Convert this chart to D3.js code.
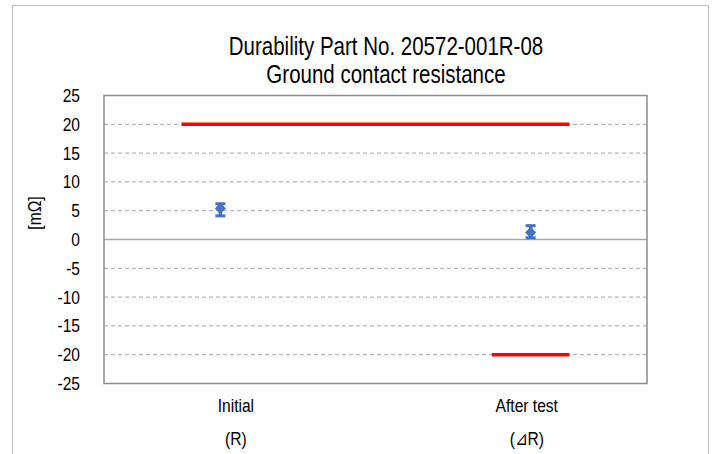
<!DOCTYPE html>
<html>
<head>
<meta charset="utf-8">
<script src="https://cdn.jsdelivr.net/npm/d3@7"></script>
<style>
  body { margin: 0; background: #fff; }
  text { font-family: "Liberation Sans", Arial, sans-serif; fill: #000; }
</style>
</head>
<body>
<script>
// chart data
var titleLines = ["Durability Part No. 20572-001R-08", "Ground contact resistance"];
var yTicks = [25, 20, 15, 10, 5, 0, -5, -10, -15, -20, -25];
var categories = ["Initial", "After test"];
var subLabels = ["(R)", "(\u22BFR)"];
var categoryX = [1.5, 5.5];      // x value of each point
var labelX = [1.7, 5.45];         // x value where the category text sits
var meanValues = [5.4, 1.2];
var maxValues = [6.2, 2.4];
var minValues = [4.1, 0.3];
// spec limits (red lines): [xStart, xEnd, y]
var upperLimit = [1, 6, 20];
var lowerLimit = [5, 6, -20];

var svgWidth = 715;
var svgHeight = 454;
var narrow = 0.82;   // squeeze text like Arial Narrow

var margin = { top: 95.5, right: 68, bottom: 70.5, left: 104 };
var width = svgWidth - margin.left - margin.right;
var height = svgHeight - margin.top - margin.bottom;

var svg = d3.select("body")
  .append("svg")
  .attr("width", svgWidth)
  .attr("height", svgHeight);

// outer chart border
svg.append("rect")
  .attr("x", 12.5)
  .attr("y", 5.5)
  .attr("width", 696)
  .attr("height", 470)
  .attr("fill", "none")
  .attr("stroke", "#bfbfbf")
  .attr("stroke-width", 1);

// title
svg.append("g").selectAll("text")
  .data(titleLines)
  .enter()
  .append("text")
  .attr("transform", function(d, i) { return `translate(386, ${55 + i * 28}) scale(${narrow}, 1)`; })
  .attr("text-anchor", "middle")
  .style("font-size", "25px")
  .text(function(d) { return d; });

var chart = svg.append("g")
  .attr("transform", `translate(${margin.left}, ${margin.top})`);

var xScale = d3.scaleLinear().domain([0, 7]).range([0, width]);
var yScale = d3.scaleLinear().domain([-25, 25]).range([height, 0]);

// gridlines
chart.append("g").selectAll("line")
  .data(yTicks.filter(function(d) { return d !== 25 && d !== -25 && d !== 0; }))
  .enter()
  .append("line")
  .attr("x1", 0)
  .attr("x2", width)
  .attr("y1", function(d) { return yScale(d); })
  .attr("y2", function(d) { return yScale(d); })
  .attr("stroke", "#a6a6a6")
  .attr("stroke-width", 1)
  .attr("stroke-dasharray", "4,3");

// zero line
chart.append("line")
  .attr("x1", 0)
  .attr("x2", width)
  .attr("y1", yScale(0))
  .attr("y2", yScale(0))
  .attr("stroke", "#a6a6a6")
  .attr("stroke-width", 1.5);

// plot border
chart.append("rect")
  .attr("width", width)
  .attr("height", height)
  .attr("fill", "none")
  .attr("stroke", "#8c8c8c")
  .attr("stroke-width", 1.5);

// y axis tick labels
var pad = 24;
var leftAxis = d3.axisLeft(yScale)
  .tickValues(yTicks)
  .tickSize(0)
  .tickPadding(pad)
  .tickFormat(function(d) { return String(d); });
var yAxisG = chart.append("g").call(leftAxis);
yAxisG.select(".domain").remove();
yAxisG.selectAll("text")
  .style("font-size", "19px")
  .attr("fill", "#000")
  .attr("x", -pad / narrow)
  .attr("transform", `scale(${narrow}, 1)`);

// y label
svg.append("text")
  .attr("transform", `translate(41, 213) rotate(-90) scale(${narrow}, 1)`)
  .attr("text-anchor", "middle")
  .style("font-size", "19px")
  .text("[m\u03A9]");

// x category labels
chart.append("g").selectAll("text")
  .data(categories)
  .enter()
  .append("text")
  .attr("transform", function(d, i) { return `translate(${xScale(labelX[i])}, ${height + 28}) scale(${narrow}, 1)`; })
  .attr("text-anchor", "middle")
  .style("font-size", "19px")
  .text(function(d) { return d; });

chart.append("g").selectAll("text")
  .data(subLabels)
  .enter()
  .append("text")
  .attr("transform", function(d, i) { return `translate(${xScale(labelX[i])}, ${height + 61}) scale(${narrow}, 1)`; })
  .attr("text-anchor", "middle")
  .style("font-size", "19px")
  .text(function(d) { return d; });

// limit lines
[upperLimit, lowerLimit].forEach(function(l) {
  chart.append("line")
    .attr("x1", xScale(l[0]))
    .attr("x2", xScale(l[1]))
    .attr("y1", yScale(l[2]))
    .attr("y2", yScale(l[2]))
    .attr("stroke", "#ff0000")
    .attr("stroke-width", 3.5);
});

// error bars + markers
var blue = "#4472c4";
var pts = chart.append("g").selectAll("g")
  .data(meanValues)
  .enter()
  .append("g");

pts.append("line")
  .attr("x1", function(d, i) { return xScale(categoryX[i]); })
  .attr("x2", function(d, i) { return xScale(categoryX[i]); })
  .attr("y1", function(d, i) { return yScale(maxValues[i]); })
  .attr("y2", function(d, i) { return yScale(minValues[i]); })
  .attr("stroke", blue)
  .attr("stroke-width", 3.5);

[maxValues, minValues].forEach(function(arr) {
  pts.append("line")
    .attr("x1", function(d, i) { return xScale(categoryX[i]) - 5; })
    .attr("x2", function(d, i) { return xScale(categoryX[i]) + 5; })
    .attr("y1", function(d, i) { return yScale(arr[i]); })
    .attr("y2", function(d, i) { return yScale(arr[i]); })
    .attr("stroke", blue)
    .attr("stroke-width", 3);
});

pts.append("path")
  .attr("d", d3.symbol().type(d3.symbolDiamond2).size(80))
  .attr("transform", function(d, i) {
    return `translate(${xScale(categoryX[i])}, ${yScale(d)})`;
  })
  .attr("fill", blue);
</script>
</body>
</html>
